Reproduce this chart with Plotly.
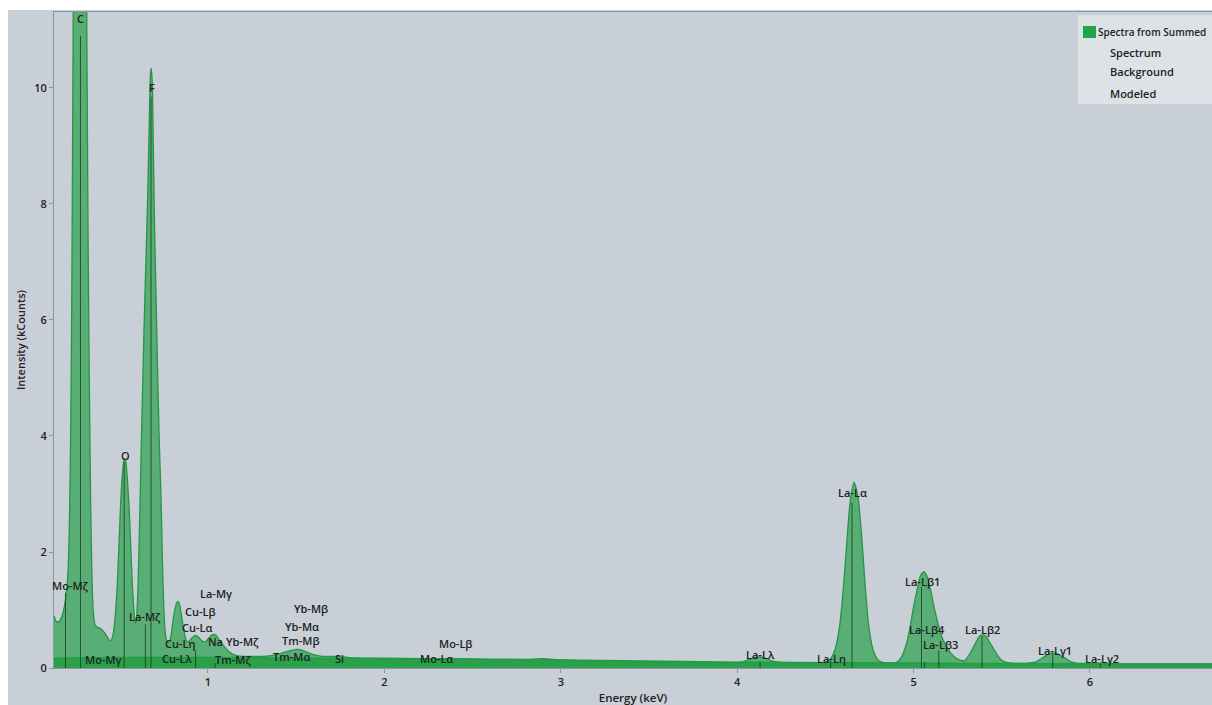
import plotly.graph_objects as go

# ---- measured spectrum (energy in keV, intensity in kCounts) ----
energy_kev = [
    0.127, 0.14, 0.155, 0.17, 0.185, 0.198, 0.207, 0.215, 0.222, 0.228, 0.234, 0.24,
    0.255, 0.277, 0.298, 0.308, 0.314, 0.32, 0.327, 0.335, 0.342, 0.35, 0.36, 0.375,
    0.39, 0.405, 0.42, 0.435, 0.447, 0.46, 0.473, 0.485, 0.495, 0.505, 0.515, 0.525,
    0.533, 0.542, 0.552, 0.562, 0.572, 0.582, 0.588, 0.596, 0.604, 0.613, 0.623, 0.637,
    0.648, 0.658, 0.667, 0.673, 0.678, 0.684, 0.69, 0.697, 0.705, 0.713, 0.723, 0.734,
    0.742, 0.75, 0.758, 0.768, 0.78, 0.79, 0.8, 0.812, 0.822, 0.83, 0.84, 0.85,
    0.86, 0.87, 0.882, 0.895, 0.91, 0.925, 0.94, 0.955, 0.97, 0.985, 1.0, 1.015,
    1.03, 1.045, 1.06, 1.08, 1.1, 1.12, 1.14, 1.17, 1.2, 1.25, 1.3, 1.35,
    1.4, 1.44, 1.48, 1.51, 1.54, 1.57, 1.61, 1.65, 1.7, 1.75, 1.8, 1.9,
    2.0, 2.2, 2.4, 2.6, 2.8, 2.9, 3.0, 3.2, 3.4, 3.6, 3.8, 3.95,
    4.02, 4.06, 4.1, 4.13, 4.16, 4.2, 4.24, 4.3, 4.4, 4.5, 4.53, 4.555,
    4.58, 4.6, 4.62, 4.64, 4.662, 4.685, 4.705, 4.725, 4.745, 4.77, 4.795, 4.82,
    4.86, 4.9, 4.93, 4.96, 4.98, 5.0, 5.02, 5.04, 5.06, 5.08, 5.1, 5.12,
    5.14, 5.165, 5.19, 5.21, 5.24, 5.27, 5.29, 5.32, 5.35, 5.375, 5.393, 5.41,
    5.43, 5.46, 5.49, 5.52, 5.57, 5.63, 5.69, 5.73, 5.76, 5.79, 5.82, 5.86,
    5.9, 5.94, 6.0, 6.06, 6.12, 6.2, 6.4, 6.6, 6.7,
]
intensity_kcounts = [
    0.9, 0.8, 0.8, 0.88, 1.05, 1.3, 1.7, 2.6, 4.2, 6.5, 10.0, 13.5,
    17.5, 19.0, 17.5, 13.5, 10.5, 7.5, 5.0, 2.8, 1.6, 0.95, 0.74, 0.7,
    0.68, 0.64, 0.58, 0.5, 0.46, 0.55, 0.85, 1.4, 2.1, 2.85, 3.35, 3.6,
    3.58, 3.3, 2.8, 2.1, 1.4, 0.92, 0.76, 0.9, 1.5, 2.6, 4.0, 5.8,
    7.0, 8.1, 9.4, 10.2, 10.34, 10.1, 9.0, 7.6, 6.5, 5.3, 4.0, 2.9,
    1.8, 1.0, 0.6, 0.45, 0.45, 0.55, 0.78, 1.0, 1.12, 1.15, 1.08, 0.9,
    0.7, 0.55, 0.45, 0.47, 0.52, 0.56, 0.55, 0.5, 0.46, 0.45, 0.5, 0.55,
    0.58, 0.57, 0.5, 0.42, 0.34, 0.28, 0.24, 0.21, 0.2, 0.2, 0.2, 0.21,
    0.24, 0.28, 0.31, 0.32, 0.3, 0.26, 0.22, 0.2, 0.2, 0.2, 0.18, 0.17,
    0.17, 0.16, 0.16, 0.15, 0.15, 0.16, 0.14, 0.12, 0.11, 0.1, 0.1, 0.09,
    0.1, 0.14, 0.18, 0.19, 0.17, 0.12, 0.1, 0.09, 0.09, 0.1, 0.16, 0.32,
    0.7, 1.3, 2.1, 2.85, 3.2, 2.95, 2.3, 1.45, 0.75, 0.32, 0.15, 0.1,
    0.09, 0.09, 0.18, 0.42, 0.7, 1.05, 1.35, 1.6, 1.66, 1.55, 1.3, 1.0,
    0.75, 0.5, 0.36, 0.26, 0.17, 0.13, 0.13, 0.25, 0.42, 0.55, 0.57, 0.55,
    0.45, 0.3, 0.16, 0.1, 0.08, 0.08, 0.1, 0.17, 0.23, 0.26, 0.24, 0.17,
    0.1, 0.08, 0.08, 0.09, 0.08, 0.07, 0.07, 0.07, 0.07,
]

# ---- fitted background ----
background_kev = [0.127, 0.5, 1.0, 1.5, 2.0, 3.0, 4.0, 5.0, 6.0, 6.7]
background_kcounts = [0.17, 0.18, 0.18, 0.17, 0.16, 0.14, 0.1, 0.085, 0.07, 0.065]

# ---- identified lines: marker energy and marker top ----
line_kev = [0.192, 0.277, 0.525, 0.645, 0.677, 0.93, 1.04, 4.13, 4.53, 4.651,
            5.045, 5.063, 5.143, 5.388, 5.789, 6.059]
line_top = [1.3, 10.9, 3.55, 0.75, 9.85, 0.3, 0.08, 0.1, 0.12, 2.85,
            1.4, 0.1, 0.3, 0.55, 0.25, 0.07]

# ---- line labels ----
label_text = ["C", "F", "O", "Mo-Mζ", "Mo-Mγ", "La-Mζ", "La-Mγ", "Cu-Lβ", "Cu-Lα",
              "Cu-Lη", "Cu-Lλ", "Na", "Yb-Mζ", "Tm-Mζ", "Yb-Mβ", "Yb-Mα", "Tm-Mβ",
              "Tm-Mα", "Si", "Mo-Lβ", "Mo-Lα", "La-Lλ", "La-Lη", "La-Lα", "La-Lβ1",
              "La-Lβ4", "La-Lβ3", "La-Lβ2", "La-Lγ1", "La-Lγ2"]
label_kev = [0.28, 0.683, 0.53, 0.218, 0.408, 0.643, 1.045, 0.955, 0.938,
             0.841, 0.824, 1.045, 1.193, 1.142, 1.584, 1.533, 1.522,
             1.476, 1.743, 2.406, 2.298, 4.135, 4.537, 4.656, 5.053,
             5.076, 5.155, 5.393, 5.802, 6.068]
label_kcounts = [11.19, 10.0, 3.67, 1.43, 0.14, 0.88, 1.28, 0.97, 0.69,
                 0.43, 0.16, 0.45, 0.45, 0.14, 1.02, 0.72, 0.47,
                 0.19, 0.16, 0.43, 0.16, 0.24, 0.17, 3.02, 1.5,
                 0.67, 0.40, 0.67, 0.31, 0.17]

legend_items = ["Spectra from Summed", "Spectrum", "Background", "Modeled"]

BG = "#c8cfd6"
TEXT = "#222222"
AXIS = "#8d959d"
FONT = "Open Sans"
WEIGHT = 600

X_RANGE = [0.127, 6.692]
Y_RANGE = [0, 11.31]

fig = go.Figure()

fig.add_trace(go.Scatter(
    x=energy_kev, y=intensity_kcounts, mode="lines",
    line=dict(color="rgb(38,150,70)", width=1.3, shape="spline", smoothing=0.6),
    fill="tozeroy", fillcolor="rgba(40,160,75,0.7)",
    hoverinfo="skip", showlegend=False,
))

fig.add_trace(go.Scatter(
    x=background_kev, y=background_kcounts, mode="lines",
    line=dict(color="rgb(34,158,68)", width=1.5, shape="spline"),
    fill="tozeroy", fillcolor="rgba(34,158,68,0.85)",
    hoverinfo="skip", showlegend=False,
))

# vertical line markers
mx, my = [], []
for e, t in zip(line_kev, line_top):
    mx += [e, e, None]
    my += [0, t, None]
fig.add_trace(go.Scatter(
    x=mx, y=my, mode="lines",
    line=dict(color="rgba(20,50,30,0.75)", width=1),
    hoverinfo="skip", showlegend=False,
))

annotations = []
for t, e, k in zip(label_text, label_kev, label_kcounts):
    annotations.append(dict(
        x=e, y=k, xref="x", yref="y", text=t, showarrow=False,
        xanchor="center", yanchor="middle",
        font=dict(family=FONT, size=11, color=TEXT, weight=WEIGHT),
    ))

# plot area spans pixels 54..1212 horizontally, 12..668 vertically
PW, PH, L, B_PX = 1158.0, 656.0, 54.0, 668.0


def px_x(p):
    return (p - L) / PW


def px_y(p):
    return (B_PX - p) / PH


shapes = [
    # white paper strips around the screenshot
    dict(type="rect", xref="paper", yref="paper", x0=px_x(0), x1=px_x(1212),
         y0=px_y(10), y1=px_y(0), fillcolor="white", line=dict(width=0), layer="below"),
    dict(type="rect", xref="paper", yref="paper", x0=px_x(0), x1=px_x(8),
         y0=px_y(705), y1=px_y(0), fillcolor="white", line=dict(width=0), layer="below"),
    # legend box
    dict(type="rect", xref="paper", yref="paper", x0=px_x(1078), x1=px_x(1213),
         y0=px_y(104), y1=px_y(15), fillcolor="#dde2e7", line=dict(width=0), layer="above"),
    dict(type="rect", xref="paper", yref="paper", x0=px_x(1083), x1=px_x(1096),
         y0=px_y(38), y1=px_y(26), fillcolor="#1fa64a", line=dict(width=0), layer="above"),
]

legend_left = [1096, 1108, 1108, 1108]
legend_mid = [32, 52, 72, 93]
legend_size = [10, 11, 11, 11]
for t, lx, ly, fs in zip(legend_items, legend_left, legend_mid, legend_size):
    annotations.append(dict(
        x=px_x(lx), y=px_y(ly), xref="paper", yref="paper", text=t, showarrow=False,
        xanchor="left", yanchor="middle",
        font=dict(family=FONT, size=fs, color=TEXT, weight=WEIGHT),
    ))

fig.update_layout(
    width=1212, height=705,
    margin=dict(l=54, r=0, t=12, b=37, pad=0),
    paper_bgcolor=BG, plot_bgcolor=BG,
    font=dict(family=FONT, size=11, color=TEXT, weight=WEIGHT),
    shapes=shapes, annotations=annotations,
    showlegend=False,
)

fig.update_xaxes(
    range=X_RANGE, tickvals=[1, 2, 3, 4, 5, 6],
    showgrid=False, zeroline=False, showline=True, linecolor=AXIS, linewidth=1,
    mirror=True, ticks="outside", ticklen=4, tickcolor=AXIS,
    tickfont=dict(family=FONT, size=11, color=TEXT, weight=WEIGHT),
    title=dict(text="Energy (keV)", font=dict(family=FONT, size=11.5, color=TEXT, weight=WEIGHT),
               standoff=5),
)
fig.update_yaxes(
    range=Y_RANGE, tickvals=[0, 2, 4, 6, 8, 10],
    showgrid=False, zeroline=False, showline=True, linecolor=AXIS, linewidth=1,
    ticks="outside", ticklen=4, tickcolor=AXIS,
    tickfont=dict(family=FONT, size=11, color=TEXT, weight=WEIGHT),
    title=dict(text="Intensity (kCounts)", font=dict(family=FONT, size=11, color=TEXT, weight=WEIGHT),
               standoff=6),
)

fig.write_html("out.html")
